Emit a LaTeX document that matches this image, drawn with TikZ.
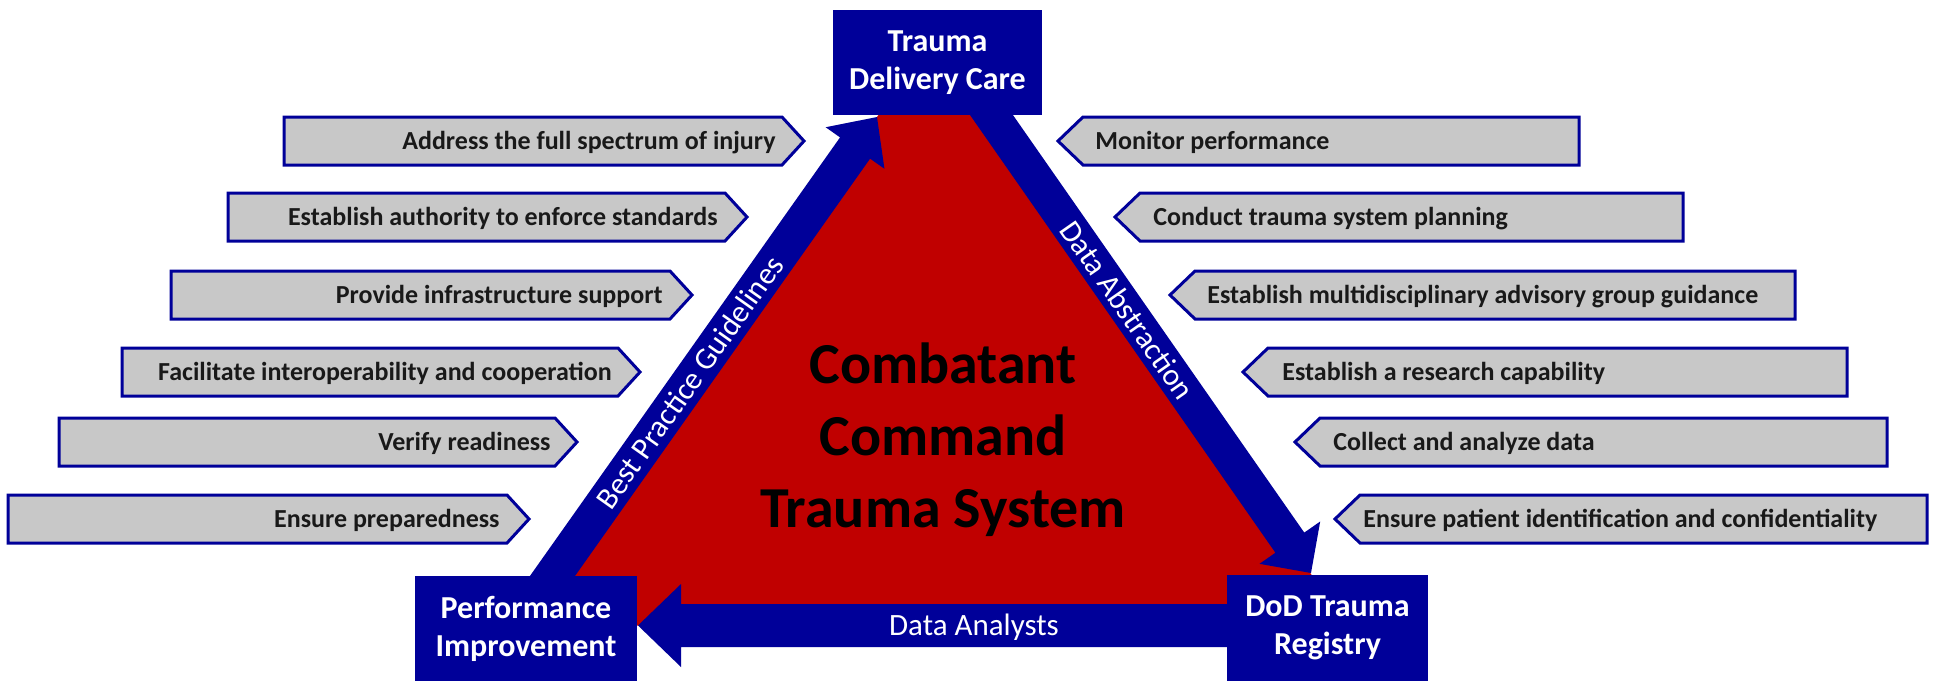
\documentclass[tikz,border=0pt]{standalone}
\usepackage{fontspec}
\setmainfont{Carlito}
\usetikzlibrary{calc}
\definecolor{tnavy}{RGB}{0,0,153}
\definecolor{tred}{RGB}{192,0,0}
\definecolor{chevgray}{RGB}{200,200,200}
\definecolor{chevtext}{RGB}{25,25,25}
\tikzset{
  chev/.style={draw=tnavy, fill=chevgray, line width=1.5pt, line join=miter},
  ctext/.style={inner sep=0pt, text=chevtext, font=\bfseries\fontsize{13}{15}\selectfont},
  tbox/.style={fill=tnavy, draw=none, text=white, align=center, inner sep=0pt,
    font=\bfseries\fontsize{16}{19}\selectfont},
  alabel/.style={text=white, inner sep=0pt, font=\fontsize{15.5}{18}\selectfont},
  ctrtext/.style={align=center, inner sep=0pt, text=black, font=\bfseries\fontsize{29}{36}\selectfont}
}
\newcommand\lchev[6]{%
  \draw[chev] (#2,#4) -- (#3,#4) -- ({#3+22},{#4+24}) -- (#3,{#4+48}) -- (#2,{#4+48}) -- cycle;
  \node[ctext, anchor=base east] (#1) at (#5,{#4+32}) {#6};}
\newcommand\rchev[6]{%
  \draw[chev] (#2,{#4+24}) -- ({#2+25},#4) -- (#3,#4) -- (#3,{#4+48}) -- ({#2+25},{#4+48}) -- cycle;
  \node[ctext, anchor=base west] (#1) at (#5,{#4+32}) {#6};}
\begin{document}
\begin{tikzpicture}[x=0.5pt,y=-0.5pt]
\useasboundingbox (0,0) rectangle (1933,681);
\fill[white] (0,0) rectangle (1933,681);

% red triangle
\fill[tred] (935.4,34.4) -- (517.5,625.5) -- (1346.8,625.5) -- cycle;

% boxes (positions)
\coordinate (bpS) at (535.5,600);
\coordinate (bpE) at (877,117);
\coordinate (daS) at (981,100);
\coordinate (daE) at (1311,573);
\coordinate (anS) at (1250,625.5);
\coordinate (anE) at (638,625.5);

% left arrow: Best Practice Guidelines
\coordinate (bpH) at ($(bpE)!19pt!(bpS)$);
\fill[tnavy] ($(bpS)!9.2pt!90:(bpE)$) -- ($(bpH)!9.2pt!-90:(bpS)$) -- ($(bpH)!18pt!-90:(bpS)$)
  -- (bpE) -- ($(bpH)!18pt!90:(bpS)$) -- ($(bpH)!9.2pt!90:(bpS)$) -- ($(bpS)!9.2pt!-90:(bpE)$) -- cycle;
\path (bpS) -- node[pos=0.451, sloped, alabel] {Best Practice Guidelines} (bpE);

% right arrow: Data Abstraction
\coordinate (daH) at ($(daE)!18.5pt!(daS)$);
\fill[tnavy] ($(daS)!8.8pt!90:(daE)$) -- ($(daH)!8.8pt!-90:(daS)$) -- ($(daH)!18.5pt!-90:(daS)$)
  -- (daE) -- ($(daH)!18.5pt!90:(daS)$) -- ($(daH)!8.8pt!90:(daS)$) -- ($(daS)!8.8pt!-90:(daE)$) -- cycle;
\path (daS) -- node[pos=0.444, sloped, alabel] {Data Abstraction} (daE);

% bottom arrow: Data Analysts
\coordinate (anH) at ($(anE)!21.5pt!(anS)$);
\fill[tnavy] ($(anS)!10.75pt!90:(anE)$) -- ($(anH)!10.75pt!-90:(anS)$) -- ($(anH)!20.75pt!-90:(anS)$)
  -- (anE) -- ($(anH)!20.75pt!90:(anS)$) -- ($(anH)!10.75pt!90:(anS)$) -- ($(anS)!10.75pt!-90:(anE)$) -- cycle;
\path (anS) -- node[pos=0.451, sloped, alabel, yshift=-1pt] {Data Analysts} (anE);

% corner boxes
\node[tbox, minimum width=104.5pt, minimum height=52.5pt] (tdc) at (937.5,62.5) {Trauma\\Delivery Care};
\node[tbox, minimum width=111pt, minimum height=52.5pt] (pi) at (526,628.5) {Performance\\Improvement};
\node[tbox, minimum width=100.5pt, minimum height=53pt] (dod) at (1327.5,628) {DoD Trauma\\Registry};

% centre text
\node[ctrtext] (cts) at (943,440) {Combatant\\Command\\Trauma System};

% left chevrons
\lchev{l1}{284}{782}{117}{776}{Address the full spectrum of injury}
\lchev{l2}{228}{725}{193}{718}{Establish authority to enforce standards}
\lchev{l3}{171}{670}{271}{663}{Provide infrastructure support}
\lchev{l4}{122}{618}{348}{612}{Facilitate interoperability and cooperation}
\lchev{l5}{59}{555}{418}{551}{Verify readiness}
\lchev{l6}{8}{507}{495}{500}{Ensure preparedness}

% right chevrons
\rchev{r1}{1058}{1579}{117}{1095}{Monitor performance}
\rchev{r2}{1115}{1683}{193}{1153}{Conduct trauma system planning}
\rchev{r3}{1170}{1795}{271}{1207}{Establish multidisciplinary advisory group guidance}
\rchev{r4}{1243}{1847}{348}{1282}{Establish a research capability}
\rchev{r5}{1295}{1887}{418}{1333}{Collect and analyze data}
\rchev{r6}{1335}{1927}{495}{1363}{Ensure patient identification and confidentiality}
\end{tikzpicture}
\end{document}
